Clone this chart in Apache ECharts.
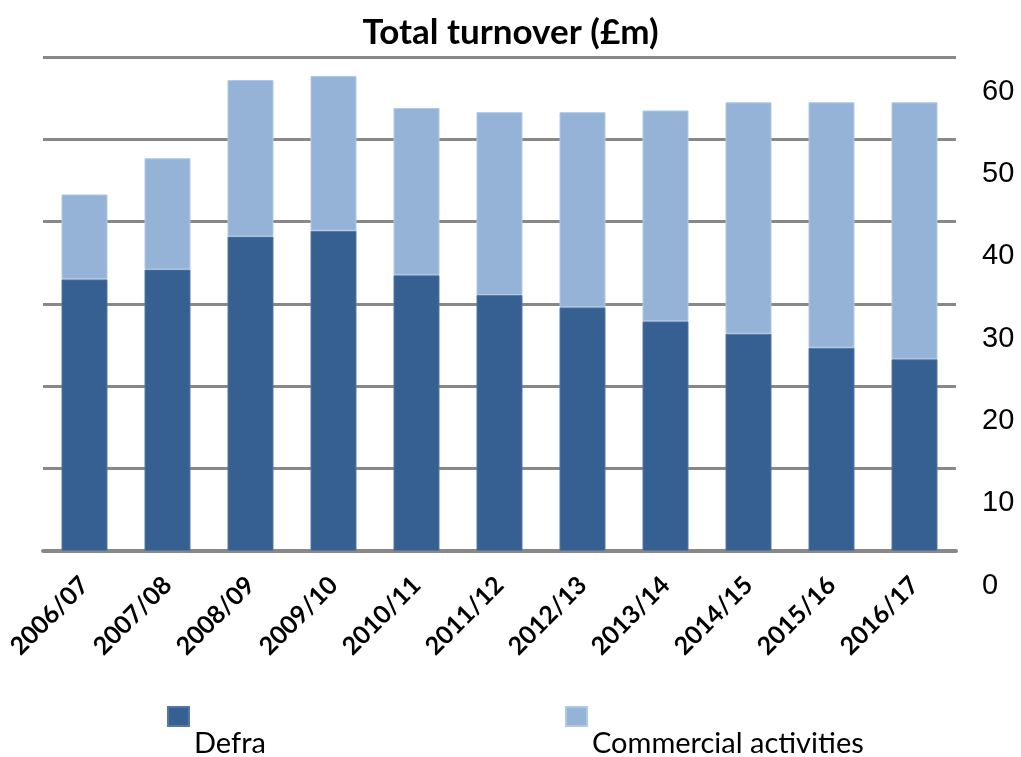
<!DOCTYPE html>
<html>
<head>
<meta charset="utf-8">
<script src="https://cdn.jsdelivr.net/npm/echarts@6/dist/echarts.min.js"></script>
<style>
  html, body { margin: 0; padding: 0; background: #fff; }
  #chart { width: 1021px; height: 757px; }
</style>
</head>
<body>
<div id="chart"></div>
<script>
const years = ['2006/07', '2007/08', '2008/09', '2009/10', '2010/11', '2011/12',
  '2012/13', '2013/14', '2014/15', '2015/16', '2016/17'];
const defra = [33.0, 34.2, 38.2, 38.9, 33.5, 31.1, 29.6, 27.9, 26.4, 24.7, 23.3];
const commercial = [10.3, 13.5, 19.0, 18.8, 20.3, 22.2, 23.7, 25.6, 28.1, 29.8, 31.2];
const yTicks = [0, 10, 20, 30, 40, 50, 60];

const chart = echarts.init(document.getElementById('chart'));

// legend labels sit under the swatch, so pad them downwards
const legendText = {
  fontFamily: 'Lato',
  fontSize: 29,
  color: '#000',
  rich: {
    t: { fontFamily: 'Lato', fontSize: 29, color: '#000', padding: [55, 0, 0, 0] }
  }
};

const option = {
  animation: false,
  backgroundColor: '#fff',
  title: {
    text: 'Total turnover (£m)',
    left: 'center',
    top: 10,
    textStyle: { fontFamily: 'Lato', fontWeight: 'bold', fontSize: 35, color: '#000' }
  },
  legend: [
    {
      data: ['Defra'],
      left: 167,
      top: 706,
      padding: 0,
      itemWidth: 21,
      itemHeight: 19,
      icon: 'rect',
      formatter: '{t|{name}}',
      textStyle: legendText
    },
    {
      data: ['Commercial activities'],
      left: 565,
      top: 706,
      padding: 0,
      itemWidth: 21,
      itemHeight: 19,
      icon: 'rect',
      formatter: '{t|{name}}',
      textStyle: legendText
    }
  ],
  grid: { left: 43, right: 65, top: 57, bottom: 206 },
  xAxis: {
    type: 'category',
    data: years,
    axisTick: { show: false },
    axisLine: { lineStyle: { color: '#888', width: 4 } },
    axisLabel: {
      interval: 0,
      rotate: 45,
      margin: 30,
      fontFamily: 'Lato',
      fontWeight: 'bold',
      fontSize: 25,
      color: '#000'
    }
  },
  yAxis: {
    type: 'value',
    position: 'right',
    min: yTicks[0],
    max: yTicks[yTicks.length - 1],
    interval: 10,
    axisLine: { show: false },
    axisTick: { show: false },
    splitLine: { lineStyle: { color: '#888', width: 3 } },
    axisLabel: {
      margin: 26,
      verticalAlign: 'top',
      padding: [20, 0, 0, 0],
      fontFamily: 'Liberation Sans',
      fontSize: 29,
      color: '#000'
    }
  },
  series: [
    {
      name: 'Defra',
      type: 'bar',
      stack: 'total',
      data: defra,
      barWidth: 46,
      itemStyle: { color: '#376092', borderColor: '#5577a3', borderWidth: 1 }
    },
    {
      name: 'Commercial activities',
      type: 'bar',
      stack: 'total',
      data: commercial,
      barWidth: 46,
      itemStyle: { color: '#95b3d7', borderColor: '#b0c8e4', borderWidth: 1 }
    }
  ]
};

chart.setOption(option);
</script>
</body>
</html>
